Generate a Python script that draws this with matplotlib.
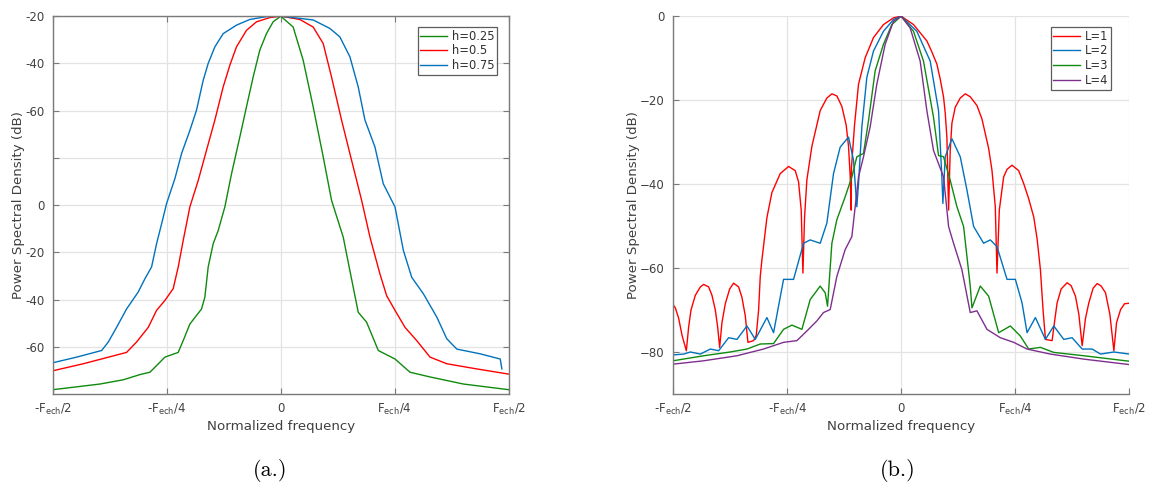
import matplotlib
matplotlib.use("Agg")
import matplotlib.pyplot as plt

# ---------------- data: panel (a) ----------------
h_labels = ["h=0.25", "h=0.5", "h=0.75"]
h_colors = ["#0f8a0f", "#ff0000", "#0072bd"]

f_h075 = [-0.5, -0.4474, -0.3927, -0.3781, -0.3599, -0.3380, -0.3124, -0.2978, -0.2832, -0.2723,
          -0.2613, -0.2504, -0.2321, -0.2175, -0.1993, -0.1847, -0.1701, -0.1591, -0.1445, -0.1263,
          -0.0971, -0.0679, -0.0314, 0.0, 0.0710, 0.1076, 0.1296, 0.1515, 0.1698, 0.1845, 0.2064,
          0.2247, 0.2504, 0.2687, 0.2870, 0.3126, 0.3419, 0.3638, 0.3858, 0.4370, 0.4810, 0.4846]
p_h075 = [-73.4, -72.2, -70.8, -69.0, -65.9, -62.0, -58.4, -55.6, -53.1, -48.2,
          -44.0, -39.7, -34.4, -29.1, -24.2, -19.9, -13.6, -10.0, -6.5, -3.7,
          -1.9, -0.7, -0.1, 0.0, -0.8, -2.6, -4.4, -8.6, -15.0, -22.0, -27.7,
          -35.5, -40.4, -49.6, -55.3, -58.8, -63.7, -68.3, -70.5, -71.5, -72.6, -74.7]

f_h05 = [-0.5, -0.4328, -0.3380, -0.3161, -0.2905, -0.2723, -0.2540, -0.2358, -0.2248, -0.2139,
         -0.1993, -0.1810, -0.1628, -0.1445, -0.1263, -0.1117, -0.0971, -0.0752, -0.0533, -0.0241,
         0.0, 0.0417, 0.0710, 0.0930, 0.1113, 0.1332, 0.1515, 0.1772, 0.1955, 0.2174, 0.2321,
         0.2504, 0.2723, 0.2980, 0.3272, 0.3638, 0.4297, 0.5]
p_h05 = [-75.1, -73.6, -71.2, -69.0, -65.9, -62.3, -60.2, -57.7, -53.1, -47.5,
         -40.4, -34.8, -28.4, -22.0, -15.0, -10.4, -6.5, -3.0, -1.2, -0.3,
         0.0, -0.7, -2.3, -5.8, -12.9, -22.0, -29.1, -39.0, -46.8, -54.6, -59.2,
         -62.3, -65.9, -68.7, -72.2, -73.6, -74.7, -75.8]

f_h025 = [-0.5, -0.3964, -0.3453, -0.3088, -0.2869, -0.2723, -0.2540, -0.2248, -0.2139, -0.1993,
          -0.1737, -0.1664, -0.1591, -0.1482, -0.1372, -0.1226, -0.1080, -0.0898, -0.0752, -0.0606,
          -0.0460, -0.0314, -0.0168, 0.0, 0.0271, 0.0490, 0.0710, 0.0930, 0.1113, 0.1369, 0.1515,
          0.1698, 0.1881, 0.2138, 0.2504, 0.2833, 0.3272, 0.4004, 0.5]
p_h025 = [-79.1, -77.9, -77.0, -75.9, -75.4, -74.0, -72.2, -71.2, -68.7, -65.2,
          -62.0, -59.5, -53.1, -48.2, -45.4, -40.4, -33.4, -25.6, -19.2, -12.9,
          -7.2, -3.7, -1.2, 0.0, -2.3, -9.3, -19.2, -29.8, -39.0, -46.8, -53.9,
          -62.7, -64.8, -70.8, -72.6, -75.4, -76.4, -77.9, -79.1]

a_yticks = [0, -10, -20, -30, -40, -50, -60, -70]
a_yticklabels = ["-20", "-40", "-60", "", "0", "-20", "-40", "-60"]

# ---------------- data: panel (b) ----------------
L_labels = ["L=1", "L=2", "L=3", "L=4"]
L_colors = ["#ff0000", "#0072bd", "#0f8a0f", "#7e2f8e"]

f_L1 = [-0.5, -0.4949, -0.4876, -0.4803, -0.4708, -0.4657, -0.4606, -0.4511, -0.4401, -0.4328,
        -0.4219, -0.4146, -0.4073, -0.4022, -0.3978, -0.3927, -0.3854, -0.3759, -0.3672, -0.3562,
        -0.3489, -0.3416, -0.3358, -0.3234, -0.3175, -0.3124, -0.3088, -0.3051, -0.2942, -0.2832,
        -0.2650, -0.2467, -0.2321, -0.2248, -0.2190, -0.2153, -0.2117, -0.2066, -0.1956, -0.1774,
        -0.1628, -0.1518, -0.1409, -0.1299, -0.1204, -0.1153, -0.1117, -0.1095, -0.1088, -0.1022,
        -0.0934, -0.0788, -0.0606, -0.0387, -0.0168, 0.0,
        0.0271, 0.0564, 0.0673, 0.0783, 0.0857, 0.0930, 0.0966, 0.1003, 0.1040, 0.1076,
        0.1113, 0.1186, 0.1296, 0.1406, 0.1515, 0.1662, 0.1772, 0.1845, 0.1918, 0.1991,
        0.2064, 0.2101, 0.2152, 0.2247, 0.2321, 0.2430, 0.2577, 0.2687, 0.2796, 0.2906,
        0.2980, 0.3053, 0.3111, 0.3163, 0.3309, 0.3360, 0.3419, 0.3507, 0.3638, 0.3726,
        0.3821, 0.3895, 0.3968, 0.4041, 0.4114, 0.4209, 0.4297, 0.4385, 0.4480, 0.4575,
        0.4663, 0.4722, 0.4810, 0.4898, 0.5]
p_L1 = [-68.7, -69.5, -72.0, -76.0, -79.7, -74.0, -70.0, -66.5, -64.5, -63.9,
        -64.5, -66.5, -70.0, -74.0, -78.9, -73.0, -68.5, -65.0, -63.6, -64.5,
        -67.0, -71.4, -77.7, -77.3, -76.0, -70.0, -62.0, -58.0, -48.0, -42.0,
        -37.5, -35.8, -36.8, -39.5, -46.2, -61.2, -48.0, -39.0, -31.0, -22.5,
        -19.5, -18.5, -19.0, -21.5, -26.0, -31.0, -38.0, -46.2, -36.0, -26.0,
        -16.2, -9.9, -5.1, -2.0, -0.4, 0.0,
        -2.0, -5.9, -8.5, -11.4, -15.0, -19.3, -23.0, -28.8, -46.2, -32.0,
        -25.5, -21.7, -19.5, -18.5, -19.2, -21.3, -24.5, -28.0, -31.5, -36.7,
        -45.4, -61.2, -46.2, -38.3, -36.5, -35.5, -36.8, -39.9, -43.5, -47.8,
        -53.0, -60.4, -70.0, -77.0, -77.3, -73.0, -68.3, -65.0, -63.5, -64.2,
        -66.7, -71.0, -78.5, -72.0, -68.3, -64.8, -63.7, -64.3, -65.9, -71.0,
        -79.7, -73.0, -69.9, -68.5, -68.4]

f_L2 = [-0.5, -0.4766, -0.4620, -0.4401, -0.4182, -0.4000, -0.3781, -0.3599, -0.3380, -0.3197,
        -0.2942, -0.2796, -0.2577, -0.2358, -0.2139, -0.1993, -0.1774, -0.1628, -0.1482, -0.1336,
        -0.1153, -0.1044, -0.0971, -0.0934, -0.0861, -0.0752, -0.0606, -0.0387, -0.0168, 0.0,
        0.0344, 0.0637, 0.0820, 0.0893, 0.0915, 0.0966, 0.1113, 0.1296, 0.1442, 0.1589, 0.1808,
        0.1955, 0.2101, 0.2321, 0.2504, 0.2650, 0.2760, 0.2943, 0.3163, 0.3346, 0.3565, 0.3748,
        0.3968, 0.4187, 0.4370, 0.4663, 0.5]
p_L2 = [-80.7, -80.5, -80.0, -80.5, -79.3, -79.7, -76.6, -77.0, -73.8, -77.0,
        -71.8, -75.4, -62.7, -62.7, -54.1, -53.3, -54.1, -49.3, -37.5, -31.2,
        -28.8, -34.3, -45.4, -39.9, -26.4, -14.6, -8.3, -3.6, -0.8, 0.0,
        -3.6, -10.7, -22.5, -38.3, -44.6, -33.5, -29.2, -33.5, -41.4, -50.1, -54.1,
        -53.3, -54.9, -62.7, -62.7, -68.3, -75.4, -71.8, -77.0, -73.8, -77.0, -76.6,
        -79.3, -79.3, -80.5, -80.0, -80.5]

f_L3 = [-0.5, -0.4328, -0.3745, -0.3380, -0.3088, -0.2796, -0.2577, -0.2394, -0.2175, -0.1993,
        -0.1774, -0.1664, -0.1613, -0.1518, -0.1409, -0.1226, -0.1080, -0.0971, -0.0825, -0.0715,
        -0.0569, -0.0387, -0.0204, 0.0,
        0.0271, 0.0490, 0.0710, 0.0820, 0.0930, 0.1076, 0.1223, 0.1369, 0.1515, 0.1552, 0.1735,
        0.1918, 0.2138, 0.2394, 0.2613, 0.2796, 0.3053, 0.3346, 0.4004, 0.5]
p_L3 = [-82.1, -80.9, -80.0, -79.3, -78.1, -78.0, -74.6, -73.6, -74.6, -67.5,
        -64.3, -65.9, -69.1, -54.1, -48.5, -43.0, -38.3, -33.5, -32.7, -24.9,
        -13.0, -6.7, -2.0, 0.0,
        -3.6, -10.7, -24.1, -33.2, -33.5, -39.1, -45.4, -50.1, -64.3, -69.5, -64.3,
        -66.7, -75.4, -73.8, -76.2, -79.3, -78.9, -80.1, -80.9, -82.2]

f_L4 = [-0.5, -0.4328, -0.3599, -0.3015, -0.2577, -0.2285, -0.2066, -0.1847, -0.1701, -0.1555,
        -0.1409, -0.1226, -0.1080, -0.0934, -0.0825, -0.0679, -0.0533, -0.0350, -0.0168, 0.0,
        0.0198, 0.0417, 0.0564, 0.0710, 0.0930, 0.1040, 0.1149, 0.1332, 0.1515, 0.1662, 0.1881,
        0.2174, 0.2467, 0.2760, 0.3272, 0.4004, 0.5]
p_L4 = [-82.9, -82.1, -80.9, -79.3, -77.7, -77.3, -75.0, -72.6, -70.6, -69.9,
        -62.0, -55.6, -52.5, -38.3, -33.5, -26.4, -16.2, -6.7, -1.2, 0.0,
        -2.8, -10.7, -22.5, -32.0, -38.3, -50.1, -54.1, -60.4, -70.6, -70.2, -74.6,
        -76.6, -77.7, -79.3, -80.5, -81.7, -83.0]

b_yticks = [0, -20, -40, -60, -80]

x_ticks = [-0.5, -0.25, 0, 0.25, 0.5]
x_ticklabels = [r"-F$_{\mathregular{ech}}$/2", r"-F$_{\mathregular{ech}}$/4", "0",
                r"F$_{\mathregular{ech}}$/4", r"F$_{\mathregular{ech}}$/2"]

# ---------------- figure ----------------
plt.rcParams["font.family"] = ["DejaVu Sans"]
plt.rcParams["mathtext.fontset"] = "dejavusans"

fig = plt.figure(figsize=(11.55, 4.9), dpi=100)
ax1 = fig.add_axes([0.0456, 0.196, 0.395, 0.771])
ax2 = fig.add_axes([0.5827, 0.196, 0.395, 0.771])

tick_col = "#404040"
spine_col = "#7a7a7a"
grid_col = "#e3e3e3"


def style(ax, box):
    ax.set_xlim(-0.5, 0.5)
    ax.set_xticks(x_ticks)
    ax.set_xticklabels(x_ticklabels)
    ax.grid(True, color=grid_col, linewidth=0.9)
    ax.set_axisbelow(True)
    for s in ax.spines.values():
        s.set_color(spine_col)
        s.set_linewidth(1.0)
    if not box:
        ax.spines["top"].set_visible(False)
        ax.spines["right"].set_visible(False)
    ax.tick_params(direction="in", length=4, width=0.8, color=spine_col,
                   labelcolor=tick_col, labelsize=8.5, pad=6,
                   top=box, right=box)
    ax.set_xlabel("Normalized frequency", fontsize=9.6, color=tick_col, labelpad=2)
    ax.set_ylabel("Power Spectral Density (dB)", fontsize=9.6, color=tick_col, labelpad=0)


def legend(ax, anchor):
    leg = ax.legend(loc="upper right", bbox_to_anchor=anchor, fontsize=8.3,
                    frameon=True, fancybox=False, handlelength=2.3, handletextpad=0.4,
                    borderpad=0.25, labelspacing=0.15, borderaxespad=0.0)
    leg.get_frame().set_edgecolor("#333333")
    leg.get_frame().set_linewidth(0.9)
    for t in leg.get_texts():
        t.set_color("#303030")


# panel (a)
ax1.plot(f_h025, p_h025, color=h_colors[0], lw=1.0, label=h_labels[0])
ax1.plot(f_h05, p_h05, color=h_colors[1], lw=1.0, label=h_labels[1])
ax1.plot(f_h075, p_h075, color=h_colors[2], lw=1.0, label=h_labels[2])
ax1.set_ylim(-80, 0)
ax1.set_yticks(a_yticks)
ax1.set_yticklabels(a_yticklabels)
style(ax1, True)
legend(ax1, (0.974, 0.972))

# panel (b)
ax2.plot(f_L1, p_L1, color=L_colors[0], lw=1.0, label=L_labels[0])
ax2.plot(f_L2, p_L2, color=L_colors[1], lw=1.0, label=L_labels[1])
ax2.plot(f_L3, p_L3, color=L_colors[2], lw=1.0, label=L_labels[2])
ax2.plot(f_L4, p_L4, color=L_colors[3], lw=1.0, label=L_labels[3])
ax2.set_ylim(-90, 0)
ax2.set_yticks(b_yticks)
style(ax2, False)
legend(ax2, (0.96, 0.972))

# sub-captions
fig.text(0.2338, 0.04, "(a.)", ha="center", va="center", fontsize=16, family="cmr10")
fig.text(0.7775, 0.04, "(b.)", ha="center", va="center", fontsize=16, family="cmr10")

fig.savefig("out.png", dpi=100, facecolor="white")
